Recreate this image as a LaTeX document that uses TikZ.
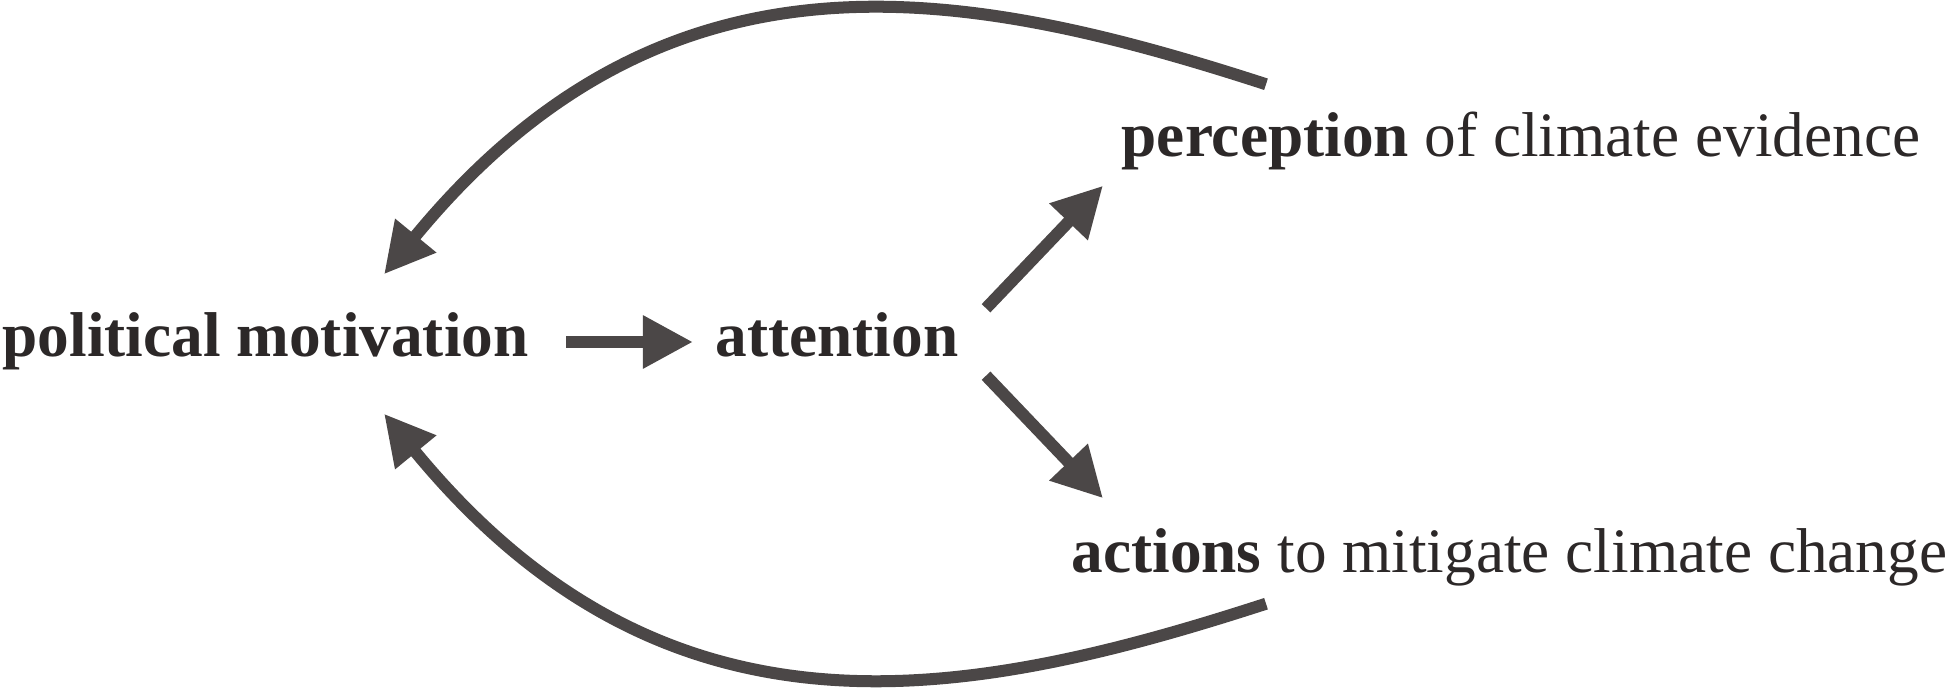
\documentclass[tikz,border=0pt]{standalone}
\usepackage{fontspec}
\setmainfont{Liberation Serif}
\usetikzlibrary{arrows.meta}

\definecolor{inkgray}{RGB}{44, 40, 40}
\definecolor{arrowgray}{RGB}{75, 71, 71}

\tikzset{
	label text/.style = {anchor = base west, inner sep = 0, text = inkgray,
		font = \fontsize{18pt}{21pt}\selectfont, text height = 0.44cm, text depth = 0.14cm},
	flow/.style = {draw = arrowgray, line width = 0.12cm,
		-{Triangle[length = 0.5cm, width = 0.5cm]}}
}

\begin{document}
\begin{tikzpicture}[x = 0.01cm, y = -0.01cm]

	\useasboundingbox (0, 0) rectangle (1949, 689);

	% Labels

	\node [label text] (pm) at (2, 357) {\textbf{political motivation}};
	\node [label text] (att) at (715, 357) {\textbf{attention}};
	\node [label text] (perc) at (1121, 157) {\textbf{perception} of climate evidence};
	\node [label text] (act) at (1071, 573) {\textbf{actions} to mitigate climate change};

	% Straight arrows

	\draw [flow, shorten <= 0.37cm, shorten >= 0.22cm] (pm.east) -- (att.west);
	\draw [flow] ([shift = {(27, -4)}] att.north east) -- ([shift = {(-18, 14)}] perc.south west);
	\draw [flow] ([shift = {(27, 4)}] att.south east) -- ([shift = {(32, -30)}] act.north west);

	% Feedback loops

	\draw [flow] ([shift = {(145, -28)}] perc.north west)
		.. controls (960, -15) and (665, -68) .. ([shift = {(118.5, -38)}] pm.north);
	\draw [flow] ([shift = {(195, 16)}] act.south west)
		.. controls (960, 703) and (665, 756) .. ([shift = {(118.5, 42)}] pm.south);

\end{tikzpicture}
\end{document}
